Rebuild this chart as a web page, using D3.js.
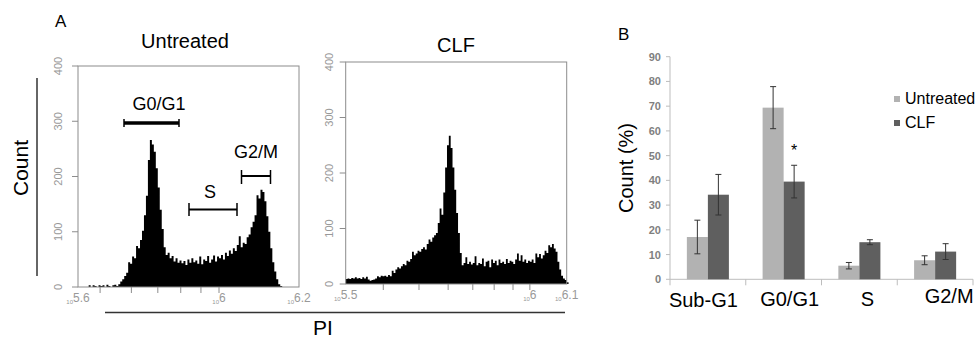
<!DOCTYPE html>
<html>
<head>
<meta charset="utf-8">
<script src="https://cdn.jsdelivr.net/npm/d3@7"></script>
<style>
  body { margin: 0; background: #fff; }
  svg { display: block; font-family: "Liberation Sans", Arial, sans-serif; }
</style>
</head>
<body>
<svg id="chart" width="978" height="341"></svg>
<script>
// ---- panel A: PI histograms (counts per bin, bins on log10(PI)) ----
const binStep = 0.005;
const untreatedBinStart = 5.655;
const untreatedCounts = [0,0,0,3,0,3,2,0,3,2,3,0,4,2,0,3,4,2,5,10,
  14,20,26,45,42,55,52,74,70,85,102,130,165,230,266,258,245,215,180,140,
  105,72,58,62,52,56,46,52,44,48,43,47,40,50,44,52,45,48,42,55,
  41,50,47,56,44,50,57,46,55,52,58,50,62,56,66,60,70,65,76,92,
  72,80,78,90,95,108,118,130,166,160,176,172,155,128,100,70,45,28,14,5,2];
const clfBinStart = 5.5;
const clfCounts = [9,10,9,11,10,12,10,11,9,12,10,13,8,6,7,8,10,14,12,15,
  14,15,13,16,14,24,20,26,30,28,32,36,34,42,40,45,58,52,55,60,
  58,63,66,62,72,80,76,84,88,92,110,136,125,165,210,250,267,245,210,170,
  128,92,56,34,38,48,36,40,35,38,50,34,38,36,46,32,40,42,30,44,
  38,42,34,44,38,40,36,45,38,42,40,36,44,55,42,52,40,44,38,42,
  40,44,38,55,48,54,46,52,60,56,70,66,72,64,58,40,26,15,10,7,3];
const histYTicks = [0, 100, 200, 300, 400];
const untreatedXLabels = ["5.6", "6", "6.2"];
const clfXLabels = ["5.5", "6", "6.1"];

// ---- panel B: cell cycle distribution (%) ----
const phases = ["Sub-G1", "G0/G1", "S", "G2/M"];
const groups = ["Untreated", "CLF"];
const untreatedPct = [17.1, 69.4, 5.5, 7.7];
const untreatedErr = [6.8, 8.5, 1.3, 1.8];
const clfPct = [34.2, 39.5, 15, 11.2];
const clfErr = [8.2, 6.6, 1.0, 3.2];
const pctTicks = [0, 10, 20, 30, 40, 50, 60, 70, 80, 90];

const svg = d3.select('#chart');
const grey = '#8c8c8c';

// panel letters
svg.append('text').attr('x', 55).attr('y', 27).attr('font-size', 17).text('A');
svg.append('text').attr('x', 618).attr('y', 40).attr('font-size', 17).text('B');

function drawHist(opt) {
  const g = svg.append('g');
  const x = d3.scaleLog()
    .domain([Math.pow(10, opt.domain[0]), Math.pow(10, opt.domain[1])])
    .range([opt.left, opt.right]);
  const y = d3.scaleLinear().domain([0, 400]).range([opt.bottom, opt.top]);

  // histogram as a step area
  const pts = opt.counts.map((c, i) => [Math.pow(10, opt.start + binStep * i), c]);
  pts.push([Math.pow(10, opt.start + binStep * opt.counts.length), opt.counts[opt.counts.length - 1]]);
  const area = d3.area()
    .x(d => x(d[0]))
    .y0(y(0))
    .y1(d => y(d[1]))
    .curve(d3.curveStepAfter);
  g.append('path').datum(pts).attr('d', area).attr('fill', '#000');

  // frame
  g.append('rect')
    .attr('x', opt.left).attr('y', opt.top)
    .attr('width', opt.right - opt.left).attr('height', opt.bottom - opt.top)
    .attr('fill', 'none').attr('stroke', grey).attr('stroke-width', 1);

  // y ticks (rotated labels)
  histYTicks.forEach(t => {
    g.append('line')
      .attr('x1', opt.left - 6).attr('x2', opt.left)
      .attr('y1', y(t)).attr('y2', y(t))
      .attr('stroke', grey);
    g.append('text')
      .attr('transform', `translate(${opt.left - opt.labelGap},${y(t)}) rotate(-90)`)
      .attr('text-anchor', 'middle')
      .attr('font-size', 11)
      .attr('fill', '#999')
      .text(t);
  });

  // x ticks: minor log ticks inside the domain
  x.ticks().filter(v => v > x.domain()[0] * 1.01 && v < x.domain()[1] * 0.99).forEach(v => {
    g.append('line')
      .attr('x1', x(v)).attr('x2', x(v))
      .attr('y1', opt.bottom).attr('y2', opt.bottom + 6)
      .attr('stroke', grey);
  });
  const labelPos = [x.range()[0], x(1e6), x.range()[1]];
  opt.xLabels.forEach((lab, i) => {
    const t = g.append('text')
      .attr('x', labelPos[i]).attr('y', opt.bottom + 15)
      .attr('text-anchor', 'middle')
      .attr('fill', '#999');
    t.append('tspan').attr('font-size', 6).attr('dy', 2).text('10');
    t.append('tspan').attr('font-size', 12).attr('dy', -2).text(lab);
  });

  // title
  svg.append('text')
    .attr('x', opt.titleX).attr('y', opt.titleY)
    .attr('text-anchor', 'middle').attr('font-size', 20)
    .text(opt.title);
  return { x, y, g };
}

drawHist({
  left: 78, right: 299, top: 66, bottom: 287,
  domain: [5.643, 6.2025], start: untreatedBinStart, counts: untreatedCounts,
  xLabels: untreatedXLabels, labelGap: 16, title: 'Untreated', titleX: 185, titleY: 48
});
drawHist({
  left: 345.7, right: 566.7, top: 62, bottom: 284,
  domain: [5.5, 6.1], start: clfBinStart, counts: clfCounts,
  xLabels: clfXLabels, labelGap: 13, title: 'CLF', titleX: 456, titleY: 52
});

// gate brackets on the untreated histogram
function bracket(x1, x2, yLine, capTop, capBot, w, label, lx, ly) {
  const g = svg.append('g').attr('stroke', '#000').attr('stroke-width', w);
  g.append('line').attr('x1', x1).attr('x2', x2).attr('y1', yLine).attr('y2', yLine);
  g.append('line').attr('x1', x1).attr('x2', x1).attr('y1', capTop).attr('y2', capBot).attr('stroke-width', 1.5);
  g.append('line').attr('x1', x2).attr('x2', x2).attr('y1', capTop).attr('y2', capBot).attr('stroke-width', 1.5);
  svg.append('text').attr('x', lx).attr('y', ly).attr('text-anchor', 'middle')
    .attr('font-size', 18).text(label);
}
bracket(124, 179, 123, 119, 127, 3.5, 'G0/G1', 159, 110);
bracket(189, 237, 209.5, 203, 216, 2, 'S', 210, 198);
bracket(241.5, 270.5, 176, 170, 184, 2, 'G2/M', 256, 158);

// shared axis titles of panel A
svg.append('line').attr('x1', 37).attr('x2', 37).attr('y1', 78).attr('y2', 276)
  .attr('stroke', '#333').attr('stroke-width', 1.5);
svg.append('text')
  .attr('transform', 'translate(28,168) rotate(-90)')
  .attr('text-anchor', 'middle').attr('font-size', 21).text('Count');
svg.append('line').attr('x1', 105).attr('x2', 565).attr('y1', 312.5).attr('y2', 312.5)
  .attr('stroke', '#333').attr('stroke-width', 1.5);
svg.append('text').attr('x', 313).attr('y', 335).attr('font-size', 21).text('PI');

// ---- panel B ----
const bx = d3.scaleBand().domain(phases).range([670, 973]).paddingInner(0.445).paddingOuter(0.2225);
const bx1 = d3.scaleBand().domain(groups).range([0, bx.bandwidth()]);
const by = d3.scaleLinear().domain([0, 90]).range([279.3, 56.7]);
const colors = { Untreated: '#b2b2b2', CLF: '#5f5f5f' };
const axisGrey = '#bdbdbd';

const bg = svg.append('g');
// y axis
bg.append('line').attr('x1', 670).attr('x2', 670).attr('y1', by(90)).attr('y2', by(0)).attr('stroke', axisGrey);
pctTicks.forEach(t => {
  bg.append('line').attr('x1', 666).attr('x2', 670).attr('y1', by(t)).attr('y2', by(t)).attr('stroke', axisGrey);
  bg.append('text').attr('x', 661).attr('y', by(t) + 4)
    .attr('text-anchor', 'end').attr('font-size', 11).attr('font-weight', 'bold')
    .attr('fill', '#7f7f7f').text(t);
});
// x axis with dividers
bg.append('line').attr('x1', 670).attr('x2', 973).attr('y1', by(0)).attr('y2', by(0)).attr('stroke', axisGrey);
const step = bx.step();
d3.range(phases.length + 1).forEach(k => {
  const xx = 670 + step * k;
  bg.append('line').attr('x1', xx).attr('x2', xx).attr('y1', by(0)).attr('y2', by(0) + 6).attr('stroke', axisGrey);
});

const series = [
  { name: 'Untreated', vals: untreatedPct, errs: untreatedErr },
  { name: 'CLF', vals: clfPct, errs: clfErr }
];
series.forEach(s => {
  phases.forEach((p, i) => {
    const x0 = bx(p) + bx1(s.name);
    bg.append('rect')
      .attr('x', x0).attr('y', by(s.vals[i]))
      .attr('width', bx1.bandwidth()).attr('height', by(0) - by(s.vals[i]))
      .attr('fill', colors[s.name]);
    const cx = x0 + bx1.bandwidth() / 2;
    const lo = by(s.vals[i] - s.errs[i]), hi = by(s.vals[i] + s.errs[i]);
    const eg = bg.append('g').attr('stroke', '#333').attr('stroke-width', 1);
    eg.append('line').attr('x1', cx).attr('x2', cx).attr('y1', lo).attr('y2', hi);
    eg.append('line').attr('x1', cx - 3).attr('x2', cx + 3).attr('y1', lo).attr('y2', lo);
    eg.append('line').attr('x1', cx - 3).attr('x2', cx + 3).attr('y1', hi).attr('y2', hi);
  });
});

// significance mark on G0/G1 CLF
const starX = bx('G0/G1') + bx1('CLF') + bx1.bandwidth() / 2;
bg.append('text').attr('x', starX).attr('y', by(clfPct[1] + clfErr[1]) - 9)
  .attr('text-anchor', 'middle').attr('font-size', 16).text('*');

// category labels
const labelDx = [-4.5, 6, 8, 14];
const labelDy = [307, 306, 306, 303];
phases.forEach((p, i) => {
  bg.append('text')
    .attr('x', bx(p) + bx.bandwidth() / 2 + labelDx[i]).attr('y', labelDy[i])
    .attr('text-anchor', 'middle').attr('font-size', 20).text(p);
});

// y title
bg.append('text')
  .attr('transform', 'translate(633,168) rotate(-90)')
  .attr('text-anchor', 'middle').attr('font-size', 20).text('Count (%)');

// legend
groups.forEach((gname, i) => {
  const ly = 99 + i * 24;
  bg.append('rect').attr('x', 894).attr('y', ly - 3).attr('width', 6).attr('height', 6).attr('fill', colors[gname]);
  bg.append('text').attr('x', 905).attr('y', ly + 5).attr('font-size', 16).text(gname);
});
</script>
</body>
</html>
